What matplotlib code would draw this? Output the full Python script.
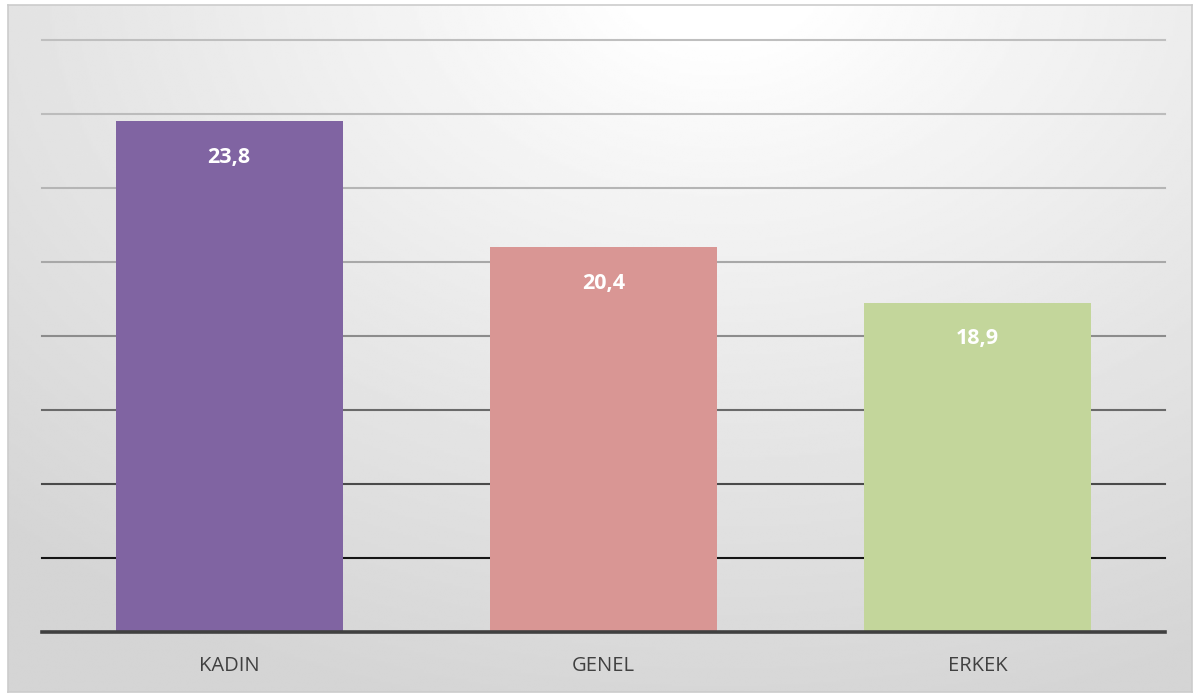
import matplotlib.pyplot as plt
import numpy as np

categories = ['KADIN', 'GENEL', 'ERKEK']
values = [23.8, 20.4, 18.9]
value_labels = ['23,8', '20,4', '18,9']
bar_colors = ['#8064a2', '#d99694', '#c3d69b']

fig = plt.figure(figsize=(11.94, 6.95), dpi=100)
fig.patch.set_facecolor('white')

# chart area background: radial grey gradient, brightest near top centre
bg = fig.add_axes([8 / 1194, 3 / 695, 1184 / 1194, 687 / 695])
h, w = 300, 520
yy, xx = np.mgrid[0:h, 0:w]
cx, cy = 0.6 * w, -0.05 * h
r = np.sqrt(((xx - cx) / w) ** 2 + ((yy - cy) / h * 0.8) ** 2)
r = np.clip((r - 0.08) / 0.8, 0, 1)
shade = 1.0 - (1.0 - 0.835) * r ** 0.9
bg.imshow(shade, cmap='gray', vmin=0, vmax=1, aspect='auto',
          extent=[0, 1, 0, 1], origin='upper', interpolation='bilinear')
bg.set_xlim(0, 1)
bg.set_ylim(0, 1)
bg.set_xticks([])
bg.set_yticks([])
for s in bg.spines.values():
    s.set_color('#cccccc')
    s.set_linewidth(1.2)

ax = fig.add_axes([42 / 1194, 63 / 695, 1123 / 1194, 592 / 695])
ax.patch.set_alpha(0)
ax.set_ylim(10, 26)
ax.set_xlim(-0.5, 2.5)

# gridlines fade from black at the bottom to light grey at the top
grid_vals = np.arange(12, 27, 2)
grid_greys = ['#151515', '#4a4a4a', '#6a6a6a', '#8c8c8c',
              '#a8a8a8', '#b5b5b5', '#bcbcbc', '#bfbfbf']
for gv, gc in zip(grid_vals, grid_greys):
    ax.axhline(gv, color=gc, lw=1.5, zorder=1, clip_on=False)

x = np.arange(len(categories))
ax.bar(x, [v - 10 for v in values], bottom=10, width=0.607,
       color=bar_colors, zorder=2)
ax.axhline(10, color='#404040', lw=2.6, zorder=3, clip_on=False)

for xi, v, lab in zip(x, values, value_labels):
    ax.text(xi, v - 0.97, lab, ha='center', va='center', color='white',
            fontsize=15.5, fontweight='bold', family=['Open Sans', 'DejaVu Sans'],
            zorder=4)

ax.set_xticks(x)
ax.set_xticklabels(categories, fontsize=14.5, color='#404040',
                   family=['Open Sans', 'DejaVu Sans'])
ax.tick_params(axis='x', length=0, pad=17)
ax.set_yticks([])
for s in ax.spines.values():
    s.set_visible(False)

fig.savefig('out.png', dpi=100)
